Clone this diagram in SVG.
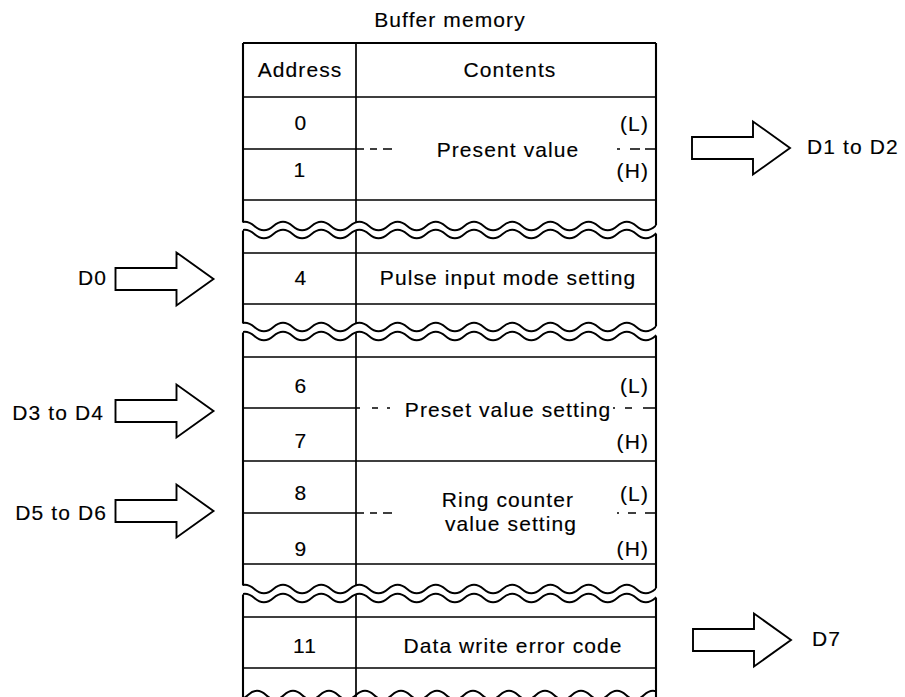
<svg xmlns="http://www.w3.org/2000/svg" width="905" height="697" viewBox="0 0 905 697">
<style>
text { font-family: "Liberation Sans", Arial, Helvetica, sans-serif; font-size: 21px; letter-spacing: 1.1px; fill: #000; stroke: #000; stroke-width: 0.15px; }
.c { text-anchor: middle; }
.e { text-anchor: end; }
.ln { stroke: #000; stroke-width: 1.7; fill: none; }
.bd { stroke: #000; stroke-width: 2.1; fill: none; }
.wv { stroke: #000; stroke-width: 1.9; fill: none; }
.arr { fill: #fff; stroke: #000; stroke-width: 1.9; stroke-linejoin: miter; }
</style>
<defs>
<path id="wave" d="M235.25,0 q9.55,-8.5 19.1,0 t19.1,0 t19.1,0 t19.1,0 t19.1,0 t19.1,0 t19.1,0 t19.1,0 t19.1,0 t19.1,0 t19.1,0 t19.1,0 t19.1,0 t19.1,0 t19.1,0 t19.1,0 t19.1,0 t19.1,0 t19.1,0 t19.1,0 t19.1,0 t19.1,0 t19.1,0"/>
<path id="waveb" d="M212,0 q9,-8.5 18,0 t18,0 t18,0 t18,0 t18,0 t18,0 t18,0 t18,0 t18,0 t18,0 t18,0 t18,0 t18,0 t18,0 t18,0 t18,0 t18,0 t18,0 t18,0 t18,0 t18,0 t18,0 t18,0 t18,0 t18,0 t18,0"/>
<clipPath id="tclip"><rect x="243" y="0" width="413" height="697"/></clipPath>
<path id="blk" d="M0,-11 H61 V-26.5 L98,0 L61,26.5 V11 H0 Z"/>
</defs>

<g id="title">
<text class="c" x="450" y="27">Buffer memory</text>
</g>

<g id="table">
<path class="bd" d="M243,43 H656"/>
<path class="bd" d="M243,43 V222.5 M243,230.5 V323.5 M243,332.5 V585.5 M243,594.5 V697"/>
<path class="bd" d="M656,43 V225.6 M656,233.6 V326.6 M656,335.6 V588.6 M656,597.6 V697"/>
<path class="ln" d="M356,43 V222.6 M356,230.6 V323.6 M356,332.6 V585.6 M356,594.6 V697"/>
<path class="ln" d="M243,97 H656 M243,200 H656 M243,253 H656 M243,304 H656 M243,357 H656 M243,461 H656 M243,564 H656 M243,617 H656 M243,668 H656"/>
<path class="ln" d="M243,149 H364 M370,149 H377 M383,149 H392 M617,149 H620 M630,149 H640 M645,149 H656"/>
<path class="ln" d="M243,408 H360 M372,408 H378 M387,408 H390 M613,408 H615 M625,408 H632 M643,408 H656"/>
<path class="ln" d="M243,513 H364 M370,513 H377 M383,513 H392 M617,513 H619 M628,513 H636 M645,513 H656"/>
<g clip-path="url(#tclip)" class="wv">
<use href="#wave" y="226"/>
<use href="#wave" y="234"/>
<use href="#wave" y="327"/>
<use href="#wave" y="336"/>
<use href="#wave" y="589"/>
<use href="#wave" y="598"/>
<use href="#waveb" y="695"/>
</g>
</g>

<g id="header">
<text class="c" x="300" y="77">Address</text>
<text class="c" x="510" y="77">Contents</text>
</g>

<g id="row-present">
<text class="c" x="301" y="130">0</text>
<text class="c" x="300" y="177">1</text>
<text class="e" x="649" y="131">(L)</text>
<text class="e" x="649" y="178">(H)</text>
<text class="c" x="508" y="157">Present value</text>
</g>

<g id="row-pulse">
<text class="c" x="301" y="285">4</text>
<text class="c" x="508" y="285">Pulse input mode setting</text>
</g>

<g id="row-preset">
<text class="c" x="301" y="393">6</text>
<text class="c" x="301" y="448">7</text>
<text class="e" x="649" y="393">(L)</text>
<text class="e" x="649" y="449">(H)</text>
<text class="c" x="508" y="417">Preset value setting</text>
</g>

<g id="row-ring">
<text class="c" x="301" y="500">8</text>
<text class="c" x="301" y="556">9</text>
<text class="e" x="649" y="501">(L)</text>
<text class="e" x="649" y="556">(H)</text>
<text class="c" x="508" y="507">Ring counter</text>
<text class="c" x="511" y="531">value setting</text>
</g>

<g id="row-error">
<text class="c" x="305" y="653">11</text>
<text class="c" x="513" y="653">Data write error code</text>
</g>

<g id="labels">
<text class="e" x="107" y="285">D0</text>
<text class="e" x="104" y="420">D3 to D4</text>
<text class="e" x="107" y="520">D5 to D6</text>
<text x="807" y="154">D1 to D2</text>
<text x="812" y="646">D7</text>
</g>

<g id="connectors">
<use href="#blk" class="arr" x="115.5" y="279"/>
<use href="#blk" class="arr" x="115.5" y="411"/>
<use href="#blk" class="arr" x="115.5" y="511"/>
<use href="#blk" class="arr" x="692" y="148"/>
<use href="#blk" class="arr" x="693" y="640"/>
</g>
</svg>
